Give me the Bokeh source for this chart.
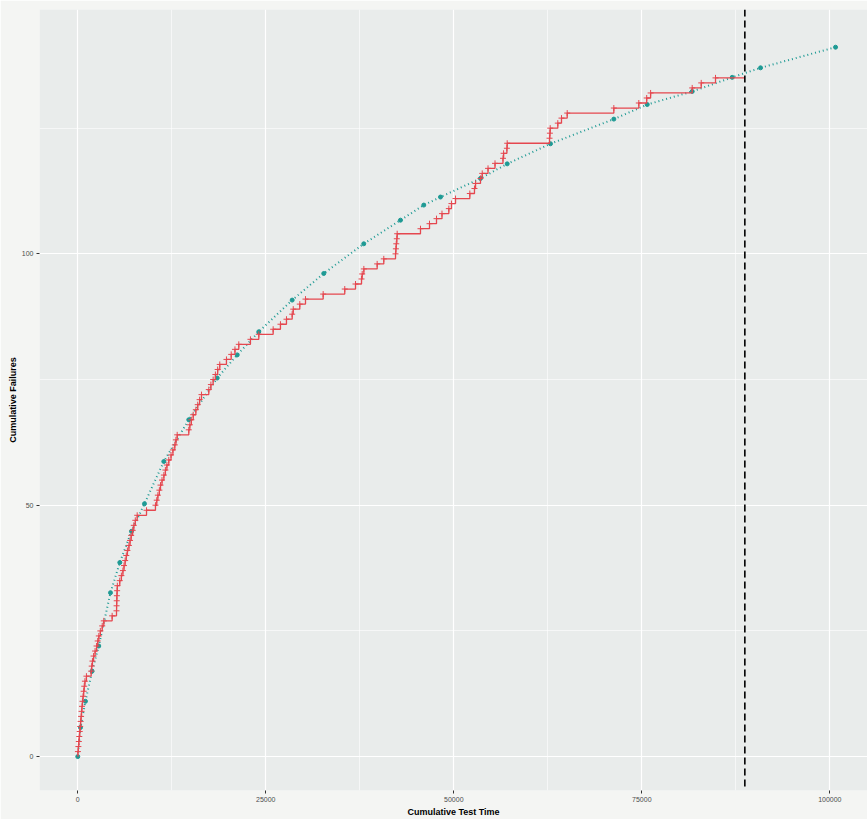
from bokeh.plotting import figure
from bokeh.models import Range1d, FixedTicker, Span
from bokeh.embed import file_html
from bokeh.resources import INLINE

# ---- data ----
failure_times = [
    20, 80, 140, 200, 260, 320, 380, 440, 500, 560, 620, 700, 780, 860, 950, 1150,
    1780, 1850, 1950, 2100, 2300, 2500, 2650, 2800, 3000, 3250, 3460,
    4570,
    5150, 5160, 5180, 5200, 5230, 5260, 5580,
    5800, 6000, 6150, 6300, 6450, 6600, 6800, 6950, 7100, 7300, 7450, 7650, 7900,
    9140,
    10330, 10500, 10650, 10850, 11000, 11200, 11450, 11650, 11850, 12100, 12400, 12650, 12900, 13050, 13220,
    14760, 14900, 15100, 15350, 15700, 15950, 16200, 16450,
    17420, 17700, 18000, 18300, 18600, 18880,
    19770,
    20400, 20900, 21410,
    22960, 24070, 25980, 26950, 27750, 28510, 28650, 29520, 30280,
    32630, 35500, 36930, 37730, 37820, 38040, 39810, 40690,
    42250, 42300, 42350, 42420, 42470,
    45570, 46770, 47700, 48430, 49340, 49690, 50230,
    52130, 52750, 52890, 53550, 53780, 54550, 55480, 56540, 56620, 57060, 57100,
    62730, 62780, 62820, 63830, 64320, 65080,
    71280, 74600, 75650, 76170, 81700, 82900, 84800,
]
cutoff_time = 88700

model_time = [0, 360, 1020, 1900, 2790, 4350, 5590, 7140, 8870, 11440, 14760,
              18540, 21200, 24070, 28510, 32710, 38030, 42910, 46010, 48230,
              53550, 57100, 62860, 71280, 75720, 81700, 87020, 90790, 100760]
model_failures = [0, 5.8, 11.0, 17.0, 22.0, 32.6, 38.6, 44.8, 50.3, 58.7, 67.0,
                  75.3, 79.9, 84.5, 90.8, 96.1, 102.0, 106.7, 109.7, 111.3,
                  115.0, 117.9, 121.9, 126.8, 129.7, 132.3, 135.1, 137.0, 141.1]

x_ticks = [0, 25000, 50000, 75000, 100000]
x_tick_labels = ["0", "25000", "50000", "75000", "100000"]
x_minor = [12500, 37500, 62500, 87500]
y_ticks = [0, 50, 100]
y_tick_labels = ["0", "50", "100"]
y_minor = [25, 75, 125]

# ---- derived ----
counts = list(range(1, len(failure_times) + 1))
step_t = [0] + failure_times + [cutoff_time]
step_n = [0] + counts + [counts[-1]]

RED = "#E5474F"
TEAL = "#1E9A94"

p = figure(width=867, height=819, output_backend="svg", toolbar_location=None,
           x_range=Range1d(-5090, 105010), y_range=Range1d(-6.74, 148.6),
           min_border_left=39, min_border_right=0, min_border_top=9,
           min_border_bottom=27)

p.background_fill_color = "#E9ECEB"
p.border_fill_color = "#F4F5F3"
p.outline_line_color = None

for g in (p.xgrid, p.ygrid):
    g.grid_line_color = "white"
    g.grid_line_width = 1.2
    g.minor_grid_line_color = "white"
    g.minor_grid_line_width = 0.6

p.xaxis.ticker = FixedTicker(ticks=x_ticks, minor_ticks=x_minor)
p.yaxis.ticker = FixedTicker(ticks=y_ticks, minor_ticks=y_minor)
p.xaxis.major_label_overrides = dict(zip(x_ticks, x_tick_labels))
p.yaxis.major_label_overrides = dict(zip(y_ticks, y_tick_labels))

for ax in (p.xaxis, p.yaxis):
    ax.axis_line_color = None
    ax.major_tick_in = 0
    ax.major_tick_out = 3
    ax.major_tick_line_color = "#333333"
    ax.minor_tick_line_color = None
    ax.major_label_text_font = "Liberation Sans"
    ax.major_label_text_font_size = "7px"
    ax.major_label_text_color = "#4D4D4D"
    ax.axis_label_text_font = "Liberation Sans"
    ax.axis_label_text_font_size = "9px"
    ax.axis_label_text_font_style = "bold"
    ax.axis_label_text_color = "black"

p.xaxis.major_label_standoff = 2
p.xaxis.axis_label_standoff = 2
p.yaxis.major_label_standoff = 2
p.yaxis.axis_label_standoff = 1

p.xaxis.axis_label = "Cumulative Test Time"
p.yaxis.axis_label = "Cumulative Failures"

# model curve (teal, dotted)
p.line(model_time, model_failures, color=TEAL, line_width=2, line_dash="1 3")
p.scatter(model_time, model_failures, color=TEAL, size=4)

# observed cumulative failures (red step)
p.step(step_t, step_n, mode="after", color=RED, line_width=1.3)
p.scatter(failure_times, counts, marker="cross", color=RED, size=6, line_width=1)

p.add_layout(Span(location=cutoff_time, dimension="height", line_color="black",
                  line_dash="7 4", line_width=1.6))

open("out.html", "w").write(file_html(p, INLINE))
